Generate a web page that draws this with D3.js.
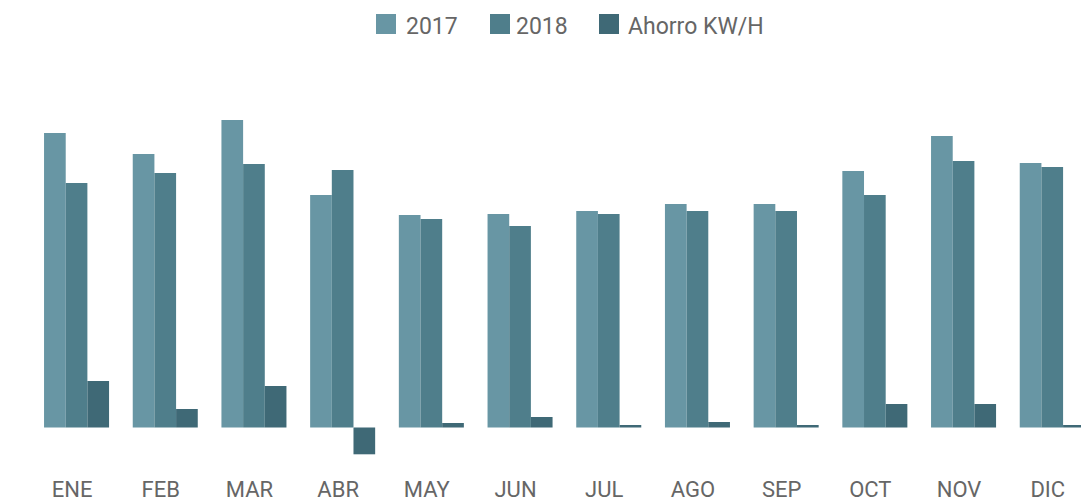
<!DOCTYPE html>
<html>
<head>
<meta charset="utf-8">
<script src="https://cdn.jsdelivr.net/npm/d3@7"></script>
<style>
  html, body { margin: 0; padding: 0; background: #fff; }
  svg { display: block; font-family: Roboto, "Noto Sans", sans-serif; }
</style>
</head>
<body>
<div id="chart"></div>
<script>
// monthly consumption 2017 vs 2018 and saving (kWh)
const months = ["ENE", "FEB", "MAR", "ABR", "MAY", "JUN", "JUL", "AGO", "SEP", "OCT", "NOV", "DIC"];
const seriesNames = ["2017", "2018", "Ahorro KW/H"];
const values2017 = [29450, 27350, 30750, 23250, 21250, 21350, 21650, 22350, 22350, 25650, 29150, 26450];
const values2018 = [24450, 25450, 26350, 25750, 20850, 20150, 21350, 21650, 21650, 23250, 26650, 26050];
const valuesAhorro = [4650, 1850, 4150, -2680, 450, 1050, 250, 550, 250, 2350, 2350, 250];

const colors = ["#6896a4", "#4f7e8b", "#3f6976"];

const width = 1081, height = 502;

// build rows for grouping
const rows = months.map((m, i) => ({
  month: m,
  vals: [values2017[i], values2018[i], valuesAhorro[i]]
}));

const svg = d3.select("#chart").append("svg")
  .attr("width", width)
  .attr("height", height);

// ----- scales -----
const x0 = d3.scaleBand()
  .domain(months)
  .range([32.2, 1096.6])
  .paddingInner(0.267)
  .paddingOuter(0.1335);

const x1 = d3.scaleBand()
  .domain(d3.range(seriesNames.length))
  .range([0, x0.bandwidth()]);

const y = d3.scaleLinear()
  .domain([0, 30000])
  .range([427.5, 127.5]);

// ----- bars -----
const groups = svg.append("g")
  .selectAll("g")
  .data(rows)
  .enter()
  .append("g")
  .attr("transform", d => "translate(" + x0(d.month) + ",0)");

groups.selectAll("rect")
  .data(d => d.vals.map((v, k) => ({ k: k, v: v })))
  .enter()
  .append("rect")
  .attr("x", d => x1(d.k))
  .attr("width", x1.bandwidth())
  .attr("y", d => y(Math.max(0, d.v)))
  .attr("height", d => Math.abs(y(d.v) - y(0)))
  .attr("fill", d => colors[d.k]);

// ----- month labels -----
svg.append("g")
  .selectAll("text")
  .data(months)
  .enter()
  .append("text")
  .attr("x", d => x0(d) + x0.bandwidth() / 2 - 4.5)
  .attr("y", 497)
  .attr("text-anchor", "middle")
  .style("font-size", "22px")
  .style("fill", "#666")
  .text(d => d);

// ----- legend -----
const legendX = [376, 490, 599];
const textGap = [30, 26, 29];

const legend = svg.append("g").attr("class", "legend");
const items = legend.selectAll("g")
  .data(seriesNames)
  .enter()
  .append("g")
  .attr("transform", (d, i) => "translate(" + legendX[i] + ",14)");

items.append("rect")
  .attr("width", 20)
  .attr("height", 20)
  .attr("fill", (d, i) => colors[i]);

items.append("text")
  .attr("x", (d, i) => textGap[i])
  .attr("y", 20)
  .style("font-size", "23px")
  .style("fill", "#666")
  .text(d => d);
</script>
</body>
</html>
